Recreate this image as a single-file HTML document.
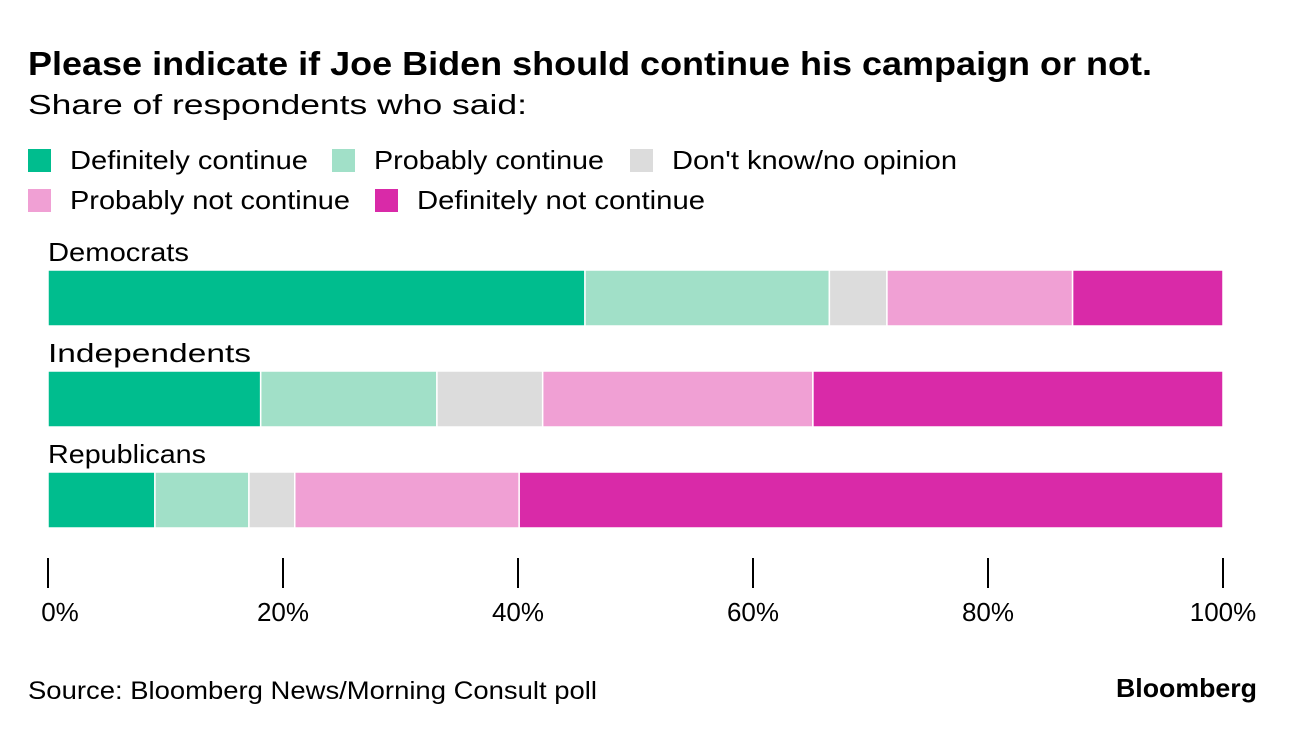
<!DOCTYPE html>
<html><head><meta charset="utf-8">
<style>
html,body{margin:0;padding:0;background:#fff;}
svg{display:block;font-family:"Liberation Sans",Arial,sans-serif;}
</style></head>
<body>
<svg id="chart" width="1296" height="732" viewBox="0 0 1296 732">
  <text x="28" y="75" font-size="33" font-weight="bold" fill="#000" textLength="1124" lengthAdjust="spacingAndGlyphs">Please indicate if Joe Biden should continue his campaign or not.</text>
  <text x="28" y="114" font-size="28" fill="#000" textLength="499" lengthAdjust="spacingAndGlyphs">Share of respondents who said:</text>
  <g id="legend"></g>
  <g id="bars"></g>
  <g id="axis"></g>
  <text x="28" y="699" font-size="25" fill="#000" textLength="569" lengthAdjust="spacingAndGlyphs">Source: Bloomberg News/Morning Consult poll</text>
  <text x="1116" y="697" font-size="26" font-weight="bold" fill="#000" textLength="141" lengthAdjust="spacingAndGlyphs">Bloomberg</text>
</svg>
<script>
const categories = ["Democrats", "Independents", "Republicans"];
const seriesNames = ["Definitely continue", "Probably continue", "Don't know/no opinion", "Probably not continue", "Definitely not continue"];
const definitelyContinue = [45.7, 18.1, 9.1];
const probablyContinue = [20.8, 15, 8];
const dontKnow = [4.9, 9, 3.9];
const probablyNot = [15.8, 23, 19.1];
const definitelyNot = [12.8, 34.9, 59.9];
const tickValues = [0, 20, 40, 60, 80, 100];
const tickLabels = ["0%", "20%", "40%", "60%", "80%", "100%"];

const colors = ["#00bd8e", "#a1e0c8", "#dcdcdc", "#f0a0d4", "#d92aa8"];
const series = [definitelyContinue, probablyContinue, dontKnow, probablyNot, definitelyNot];
const NS = "http://www.w3.org/2000/svg";
const x = v => 48 + v * (1223 - 48) / 100;
const rowTop = i => 270 + i * 101;
const barH = 56;

function mk(tag, attrs, parent) {
  const e = document.createElementNS(NS, tag);
  for (const k in attrs) e.setAttribute(k, attrs[k]);
  parent.appendChild(e);
  return e;
}

const legend = document.getElementById("legend");
const legPos = [[28,160,238],[332,160,230],[630,160,285],[28,200,280],[375,200,288]];
seriesNames.forEach((n, i) => {
  const [lx, ly, lw] = legPos[i];
  const g = mk("g", {}, legend);
  
  
  mk("rect", {x: lx, y: ly - 11, width: 23, height: 23, fill: colors[i]}, g);
  const t = mk("text", {x: lx + 42, y: ly + 9, "font-size": 26, fill: "#000", textLength: lw, lengthAdjust: "spacingAndGlyphs"}, g);
  t.textContent = n;
});

const bars = document.getElementById("bars");
const catW = [141, 203, 158];
categories.forEach((c, ci) => {
  const lab = mk("text", {x: 48, y: rowTop(ci) - 9, "font-size": 26, fill: "#000", textLength: catW[ci], lengthAdjust: "spacingAndGlyphs"}, bars);
  
  
  lab.textContent = c;
  let cum = 0;
  series.forEach((s, si) => {
    const v = s[ci];
    const r = mk("rect", {x: x(cum), y: rowTop(ci), width: Math.max(0, x(cum + v) - x(cum)), height: barH, fill: colors[si], stroke: "#fff", "stroke-width": 1.5}, bars);
    
    
    cum += v;
  });
});

const axis = document.getElementById("axis");
tickValues.forEach((tv, i) => {
  const l = mk("line", {x1: x(tv), x2: x(tv), y1: 558, y2: 588, stroke: "#000", "stroke-width": 2}, axis);
  
  
  const t = mk("text", {x: x(tv) + (i === 0 ? 12 : 0), y: 621, "font-size": 26, "text-anchor": "middle", fill: "#000"}, axis);
  
  
  t.textContent = tickLabels[i];
});
</script>
</body></html>
